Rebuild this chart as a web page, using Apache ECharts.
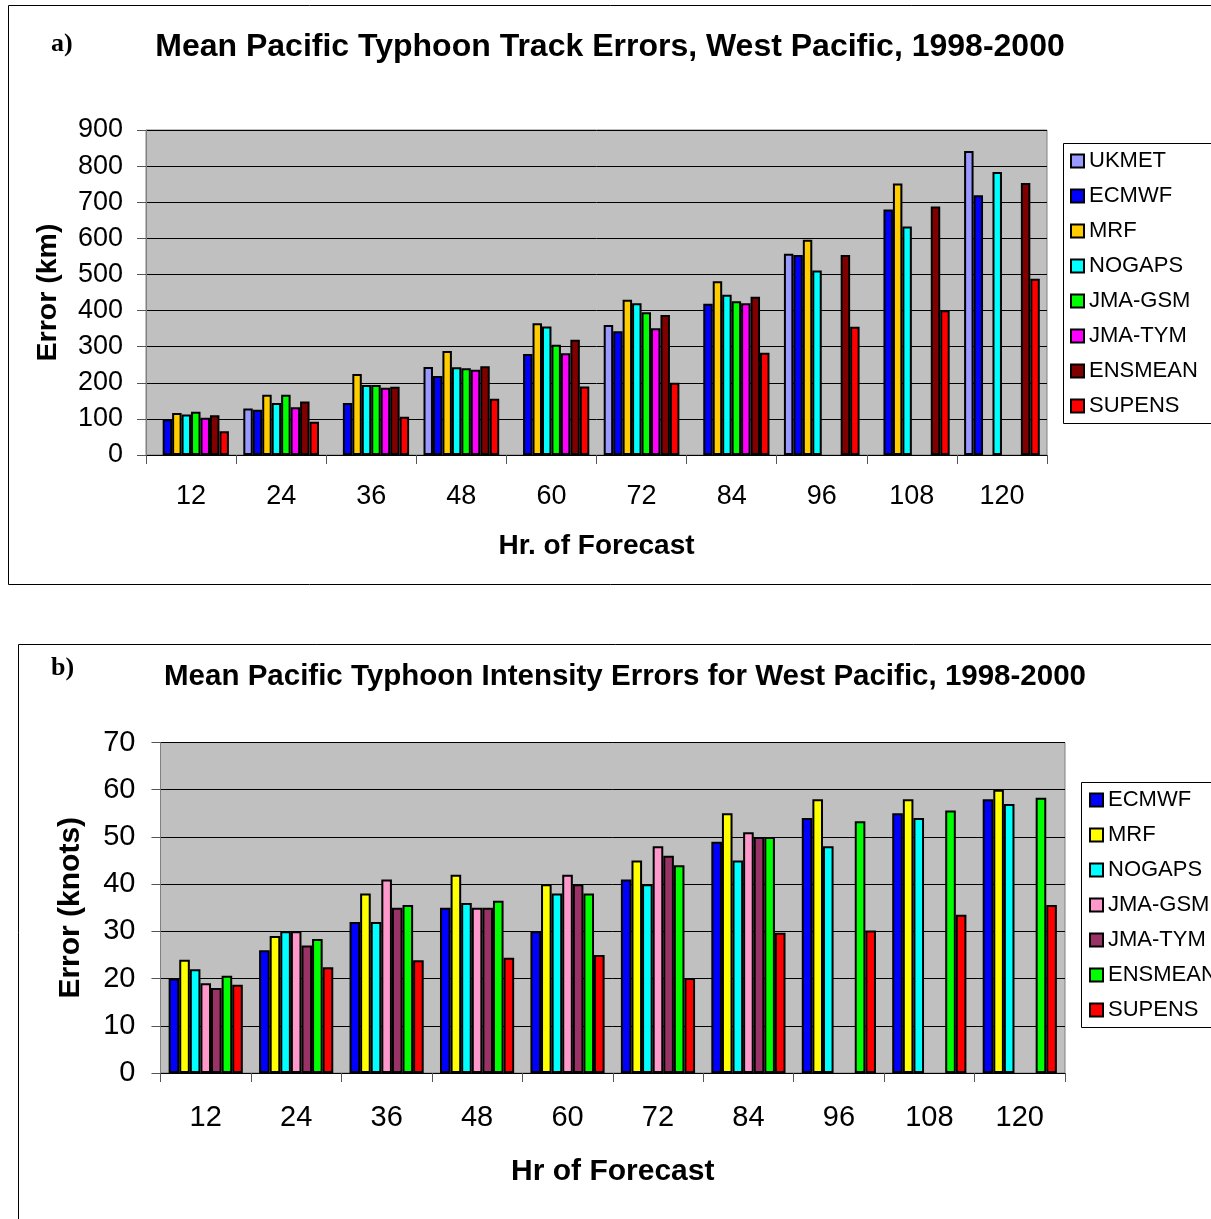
<!DOCTYPE html>
<html>
<head>
<meta charset="utf-8">
<script src="https://cdn.jsdelivr.net/npm/echarts@6/dist/echarts.min.js"></script>
<style>
html,body{margin:0;padding:0;background:#fff;overflow:hidden;}
#c{width:1211px;height:1219px;}
</style>
</head>
<body>
<div id="c"></div>
<script>
// ---------- data ----------
var categories = ['12','24','36','48','60','72','84','96','108','120'];

// a) track errors (km)
var trackNames = ['UKMET','ECMWF','MRF','NOGAPS','JMA-GSM','JMA-TYM','ENSMEAN','SUPENS'];
var trackColors = ['#9999FF','#0000FF','#FFCC00','#00FFFF','#00FF00','#FF00FF','#800000','#FF0000'];
var trackUKMET   = [null,129,null,244,null,360,null,557,null,842];
var trackECMWF   = [99,125,144,219,280,343,419,554,680,719];
var trackMRF     = [116,167,224,288,365,430,481,596,752,null];
var trackNOGAPS  = [112,144,194,243,356,420,444,511,633,784];
var trackJMAGSM  = [120,167,194,240,305,395,426,null,null,null];
var trackJMATYM  = [103,132,186,236,282,351,420,null,null,null];
var trackENSMEAN = [110,148,189,246,319,388,438,554,688,753];
var trackSUPENS  = [66,92,106,156,190,200,283,355,401,488];
var trackTicks = {min:0, max:900, interval:100};

// b) intensity errors (knots)
var intNames = ['ECMWF','MRF','NOGAPS','JMA-GSM','JMA-TYM','ENSMEAN','SUPENS'];
var intColors = ['#0000FF','#FFFF00','#00FFFF','#FF99CC','#993366','#00FF00','#FF0000'];
var intECMWF   = [20,26,32,35,30,41,49,54,55,58];
var intMRF     = [24,29,38,42,40,45,55,58,58,60];
var intNOGAPS  = [22,30,32,36,38,40,45,48,54,57];
var intJMAGSM  = [19,30,41,35,42,48,51,null,null,null];
var intJMATYM  = [18,27,35,35,40,46,50,null,null,null];
var intENSMEAN = [20.6,28.4,35.6,36.5,38,44,50,53.3,55.6,58.3];
var intSUPENS  = [18.7,22.4,23.9,24.4,25,20.1,29.7,30.2,33.5,35.6];
var intTicks = {min:0, max:70, interval:10};

var trackData = [trackUKMET,trackECMWF,trackMRF,trackNOGAPS,trackJMAGSM,trackJMATYM,trackENSMEAN,trackSUPENS];
var intData = [intECMWF,intMRF,intNOGAPS,intJMAGSM,intJMATYM,intENSMEAN,intSUPENS];

// ---------- chart ----------
var SANS = 'Liberation Sans, Arial, sans-serif';
var chart = echarts.init(document.getElementById('c'), null, {renderer:'canvas'});

var series = [];
trackNames.forEach(function(n,i){
  series.push({name:n, type:'bar', xAxisIndex:0, yAxisIndex:0, data:trackData[i],
    barGap:'0%', barCategoryGap:'16%', animation:false,
    itemStyle:{color:trackColors[i], borderColor:'#000', borderWidth:2}});
});
intNames.forEach(function(n,i){
  series.push({name:n, type:'bar', xAxisIndex:1, yAxisIndex:1, data:intData[i],
    barGap:'0%', barCategoryGap:'18%', animation:false,
    itemStyle:{color:intColors[i], borderColor:'#000', borderWidth:2}});
});

function legendData(names, colors){
  return names.map(function(n,i){ return {name:n, itemStyle:{color:colors[i]}}; });
}

function xAxis(gridIndex, fs, nfs, name, labelMargin, nameGap){
  return {type:'category', gridIndex:gridIndex, data:categories,
    axisLine:{show:true, lineStyle:{color:'#000', width:1}},
    axisTick:{show:true, length:9, lineStyle:{color:'#555'}},
    axisLabel:{fontFamily:SANS, fontSize:fs, color:'#000', margin:labelMargin},
    name:name, nameLocation:'middle', nameGap:nameGap,
    nameTextStyle:{fontFamily:SANS, fontSize:nfs, fontWeight:'bold', color:'#000'}};
}
function yAxis(gridIndex, t, fs, nfs, name, labelMargin, nameGap){
  return {type:'value', gridIndex:gridIndex, min:t.min, max:t.max, interval:t.interval,
    axisLine:{show:true, lineStyle:{color:'#808080', width:1}},
    axisTick:{show:true, length:9, lineStyle:{color:'#555'}},
    splitLine:{show:true, lineStyle:{color:'#000', width:1}},
    axisLabel:{fontFamily:SANS, fontSize:fs, color:'#000', margin:labelMargin},
    name:name, nameLocation:'middle', nameGap:nameGap, nameRotate:90,
    nameTextStyle:{fontFamily:SANS, fontSize:nfs, fontWeight:'bold', color:'#000'}};
}

var option = {
  backgroundColor:'#fff',
  animation:false,
  title:[
    {text:'Mean Pacific Typhoon Track Errors, West Pacific, 1998-2000', left:605, top:26, textAlign:'center',
      textStyle:{fontFamily:SANS, fontSize:32, fontWeight:'bold', color:'#000'}},
    {text:'Mean Pacific Typhoon Intensity Errors for West Pacific, 1998-2000', left:620, top:657, textAlign:'center',
      textStyle:{fontFamily:SANS, fontSize:29.5, fontWeight:'bold', color:'#000'}}
  ],
  grid:[
    {left:146, top:130, width:901, height:325, show:true, backgroundColor:'#C0C0C0', borderColor:'#808080', borderWidth:1},
    {left:160.5, top:742.5, width:904.5, height:330.5, show:true, backgroundColor:'#C0C0C0', borderColor:'#808080', borderWidth:1}
  ],
  xAxis:[
    xAxis(0, 27, 28, 'Hr. of Forecast', 28, 77),
    xAxis(1, 29, 30, 'Hr of Forecast', 30, 84)
  ],
  yAxis:[
    yAxis(0, trackTicks, 27, 28.5, 'Error (km)', 23, 83),
    yAxis(1, intTicks, 29, 30, 'Error (knots)', 25, 75)
  ],
  legend:[
    {orient:'vertical', left:1070, top:150, padding:0, itemGap:13, itemWidth:13, itemHeight:13,
      icon:'rect', selectedMode:false,
      itemStyle:{borderColor:'#000', borderWidth:2},
      textStyle:{fontFamily:SANS, fontSize:22, color:'#000', lineHeight:22},
      data:legendData(trackNames, trackColors)},
    {orient:'vertical', left:1089, top:789, padding:0, itemGap:13, itemWidth:13, itemHeight:13,
      icon:'rect', selectedMode:false,
      itemStyle:{borderColor:'#000', borderWidth:2},
      textStyle:{fontFamily:SANS, fontSize:22, color:'#000', lineHeight:22},
      data:legendData(intNames, intColors)}
  ],
  graphic:[
    {type:'rect', shape:{x:8.5, y:5.5, width:1260, height:579}, style:{fill:null, stroke:'#000', lineWidth:1}, silent:true, z:-1},
    {type:'rect', shape:{x:18.5, y:644.5, width:1260, height:700}, style:{fill:null, stroke:'#000', lineWidth:1}, silent:true, z:-1},
    {type:'rect', shape:{x:1063.5, y:143.5, width:200, height:280}, style:{fill:null, stroke:'#000', lineWidth:1}, silent:true, z:-1},
    {type:'rect', shape:{x:1081.5, y:782.5, width:200, height:245}, style:{fill:null, stroke:'#000', lineWidth:1}, silent:true, z:-1},
    {type:'text', left:51, top:31, style:{text:'a)', fontFamily:'Liberation Serif, Times New Roman, serif', fontSize:26, fontWeight:'bold', fill:'#000'}},
    {type:'text', left:51, top:655, style:{text:'b)', fontFamily:'Liberation Serif, Times New Roman, serif', fontSize:26, fontWeight:'bold', fill:'#000'}}
  ],
  series:series
};
chart.setOption(option);
</script>
</body>
</html>
